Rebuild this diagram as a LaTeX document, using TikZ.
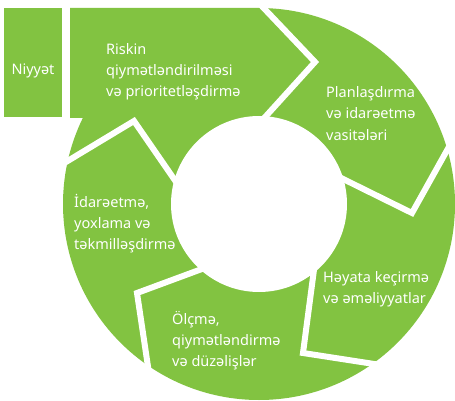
\documentclass[tikz,border=0pt]{standalone}
\usepackage{fontspec}
\setmainfont{Noto Sans}
\definecolor{ringgreen}{RGB}{130,195,65}
\begin{document}
\begin{tikzpicture}[x=1pt,y=-1pt,
  gap/.style={draw=white,line width=6pt,line join=miter,line cap=butt},
  lbl/.style={anchor=base west,inner sep=0pt,text=white,font=\fontsize{14.5}{21}\selectfont},
  lblc/.style={anchor=base,inner sep=0pt,text=white,font=\fontsize{14.5}{21}\selectfont}]
\useasboundingbox (0,0) rectangle (455,401);
\coordinate (c) at (259,204);
% green shapes
\fill[ringgreen] (c) circle[radius=196pt];
\fill[ringgreen] (70,8) -- (266,8) -- (318,62) -- (266,118) -- (70,118) -- cycle;
\fill[ringgreen] (4,8) rectangle (62,117);
% inner hole
\fill[white] (c) circle[radius=88pt];
% separators
\coordinate (a1) at (257,1);  \coordinate (a2) at (315,62);  \coordinate (a3) at (257,126);
\coordinate (b1) at (335,175); \coordinate (b2) at (412,213); \coordinate (b3) at (455,136);
\coordinate (d1) at (315,262); \coordinate (d2) at (303,353); \coordinate (d3) at (400,368);
\coordinate (e1) at (210,266); \coordinate (e2) at (137,293); \coordinate (e3) at (150,380);
\coordinate (f1) at (56,168);  \coordinate (f2) at (134,121); \coordinate (f3) at (183,192);
\draw[gap] (a1) -- (a2) -- (a3);
\draw[gap] (b1) -- (b2) -- (b3);
\draw[gap] (d1) -- (d2) -- (d3);
\draw[gap] (e1) -- (e2) -- (e3);
\draw[gap] (f1) -- (f2) -- (f3);
% labels
\node[lblc] (niyyet) at (33,75) {Niyyət};
\node[lbl] (r1) at (106,55) {Riskin};
\node[lbl] (r2) at (106,76) {qiymətləndirilməsi};
\node[lbl] (r3) at (106,97) {və prioritetləşdirmə};
\node[lbl] (p1) at (326,98) {Planlaşdırma};
\node[lbl] (p2) at (326,119) {və idarəetmə};
\node[lbl] (p3) at (326,140) {vasitələri};
\node[lbl] (h1) at (323,282) {Həyata keçirmə};
\node[lbl] (h2) at (323,303) {və əməliyyatlar};
\node[lbl] (o1) at (172,324) {Ölçmə,};
\node[lbl] (o2) at (172,345) {qiymətləndirmə};
\node[lbl] (o3) at (172,366) {və düzəlişlər};
\node[lbl] (i1) at (74,207) {İdarəetmə,};
\node[lbl] (i2) at (74,228) {yoxlama və};
\node[lbl] (i3) at (74,249) {təkmilləşdirmə};
\end{tikzpicture}
\end{document}
